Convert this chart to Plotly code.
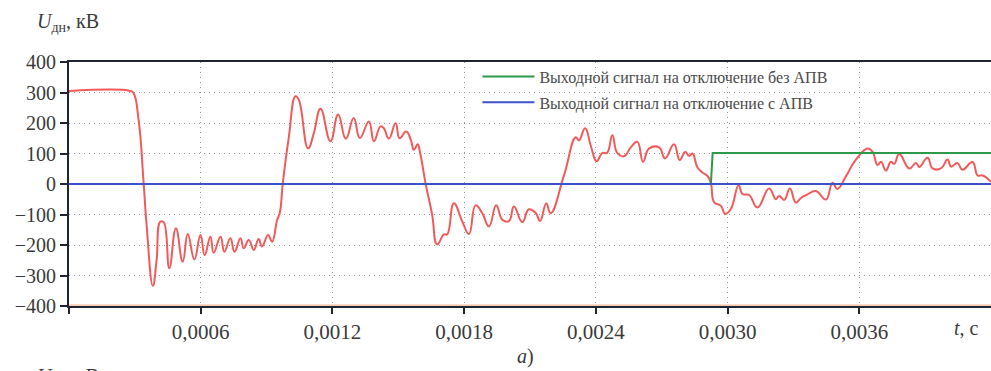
import plotly.graph_objects as go

# Time axis of the recorded voltage, microseconds
t_us = [0, 279, 294, 317, 340, 354, 382, 399, 416, 431, 457, 487, 518, 541, 571, 599,
        618, 644, 659, 690, 708, 735, 754, 781, 796, 819, 842, 864, 879, 907, 925, 948,
        960, 974, 1001, 1032, 1047, 1089, 1115, 1146, 1191, 1226, 1261, 1297, 1325, 1366,
        1389, 1419, 1434, 1457, 1488, 1506, 1536, 1557, 1571, 1588, 1600, 1624, 1654, 1677,
        1708, 1723, 1753, 1791, 1822, 1852, 1882, 1913, 1946, 1974, 2004, 2027, 2065, 2095,
        2126, 2146, 2174, 2194, 2255, 2308, 2323, 2351, 2378, 2403, 2430, 2451, 2475, 2498,
        2528, 2559, 2589, 2615, 2642, 2688, 2715, 2756, 2782, 2807, 2825, 2840, 2863, 2885,
        2908, 2924, 2939, 2969, 2989, 3015, 3050, 3068, 3098, 3136, 3189, 3220, 3235, 3258,
        3284, 3311, 3334, 3364, 3402, 3448, 3478, 3500, 3539, 3584, 3638, 3660, 3683, 3699,
        3721, 3744, 3759, 3782, 3828, 3858, 3873, 3911, 3934, 3972, 4002, 4018, 4047, 4070,
        4116, 4139, 4162, 4200]

# Voltage U_dn, kV
u_kv = [305, 305, 298, 210, 3, -140, -334, -250, -124, -125, -276, -145, -255, -164, -247, -167,
        -233, -173, -225, -173, -222, -178, -222, -178, -211, -184, -216, -180, -205, -167, -189, -118,
        -95, 3, 152, 288, 276, 117, 166, 247, 140, 228, 148, 216, 151, 205,
        140, 189, 183, 149, 199, 150, 172, 145, 112, 130, 100, 3, -100, -198,
        -165, -165, -63, -122, -164, -70, -95, -139, -70, -117, -122, -74, -125, -83,
        -95, -121, -64, -96, 29, 153, 143, 183, 122, 75, 102, 102, 160, 101,
        91, 120, 138, 73, 116, 120, 84, 130, 79, 105, 92, 100, 54, 38,
        27, 3, -60, -71, -98, -82, -4, -33, -36, -77, -15, -50, -39, -52,
        -15, -61, -46, -34, -23, -51, 4, -16, 25, 79, 116, 106, 62, 73,
        44, 73, 66, 98, 51, 69, 56, 86, 51, 51, 80, 57, 69, 47,
        72, 28, 28, 7]

# Trip signal without auto-reclosing (step) and with auto-reclosing
trip_t_us = [0, 2924, 2932, 4200]
trip_no_apv = [0, 0, 102, 102]
trip_apv_t_us = [0, 4200]
trip_apv = [0, 0]

legend_names = ["Выходной сигнал на отключение без АПВ",
                "Выходной сигнал на отключение с АПВ"]

x_ticks = [0, 0.0006, 0.0012, 0.0018, 0.0024, 0.0030, 0.0036]
x_ticktext = ["", "0,0006", "0,0012", "0,0018", "0,0024", "0,0030", "0,0036"]
y_ticks = [-400, -300, -200, -100, 0, 100, 200, 300, 400]

to_s = lambda seq: [v * 1e-6 for v in seq]

SERIF = "Liberation Serif"
INK = "#3a3a3a"
AXIS = "#1f2533"
GRID = "#8e9aa8"

fig = go.Figure()
fig.add_trace(go.Scatter(
    x=to_s(t_us), y=u_kv, mode="lines", showlegend=False,
    line=dict(color="#f25a5a", width=2, shape="spline", smoothing=1.3),
))
fig.add_trace(go.Scatter(
    x=to_s(trip_t_us), y=trip_no_apv, mode="lines", name=legend_names[0],
    legendgroup="a", line=dict(color="#2e9a48", width=2),
))
fig.add_trace(go.Scatter(
    x=to_s(trip_apv_t_us), y=trip_apv, mode="lines", name=legend_names[1],
    legendgroup="b", line=dict(color="#3d52c8", width=2),
))

# thin orange fringe just above the frame lines
for yv in (403, -397):
    fig.add_shape(type="line", xref="paper", x0=0, x1=1, yref="y", y0=yv, y1=yv,
                  line=dict(color="#f2a67a", width=1), layer="below")

fig.update_layout(
    width=991, height=371,
    margin=dict(l=69, r=0, t=62, b=65),
    paper_bgcolor="white", plot_bgcolor="white",
    font=dict(family=SERIF, size=20, color=INK),
    xaxis=dict(
        range=[0, 0.0042], tickmode="array", tickvals=x_ticks, ticktext=x_ticktext,
        ticks="outside", ticklen=6, tickwidth=2, tickcolor=AXIS,
        showline=True, linecolor=AXIS, linewidth=2, mirror=True,
        showgrid=True, gridcolor=GRID, griddash="1px,4px", gridwidth=1.2,
        zeroline=False, tickfont=dict(family=SERIF, size=21, color=INK),
    ),
    yaxis=dict(
        range=[-400, 400], tickmode="array", tickvals=y_ticks,
        ticktext=[str(v).replace("-", "\u2212") for v in y_ticks],
        ticks="outside", ticklen=7, tickwidth=2, tickcolor=AXIS,
        showline=True, linecolor=AXIS, linewidth=2,
        showgrid=True, gridcolor=GRID, griddash="1px,4px", gridwidth=1.2,
        zeroline=False, tickfont=dict(family=SERIF, size=20, color=INK),
    ),
    legend=dict(
        x=0.443, y=1.01, xanchor="left", yanchor="top",
        bgcolor="rgba(0,0,0,0)", borderwidth=0,
        traceorder="grouped", tracegroupgap=2, itemwidth=52,
        font=dict(family=SERIF, size=16, color="#4a4a4a"),
    ),
    annotations=[
        dict(text="<i>U</i><sub>дн</sub>, кВ", xref="paper", yref="paper",
             x=-0.037, y=1.0 + 40 / 244, xanchor="left", yanchor="middle",
             showarrow=False, font=dict(family=SERIF, size=20, color=INK)),
        dict(text="<i>t</i>, с", xref="paper", yref="paper",
             x=(966 - 69) / 922, y=-(328 - 306) / 244, xanchor="center", yanchor="middle",
             showarrow=False, font=dict(family=SERIF, size=20, color=INK)),
        dict(text="<i>а</i>)", xref="paper", yref="paper",
             x=(525 - 69) / 922, y=-(356 - 306) / 244, xanchor="center", yanchor="middle",
             showarrow=False, font=dict(family=SERIF, size=20, color=INK)),
        dict(text="<i>U</i><sub>дн</sub>, кВ", xref="paper", yref="paper",
             x=-0.037, y=-(377 - 306) / 244, xanchor="left", yanchor="middle",
             showarrow=False, font=dict(family=SERIF, size=20, color=INK)),
    ],
)

fig.write_html("out.html")
